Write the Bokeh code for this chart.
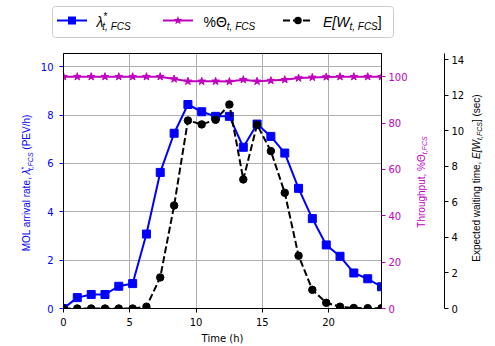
import math
from bokeh.plotting import figure
from bokeh.layouts import column
from bokeh.models import Range1d, LinearAxis, FixedTicker, Div
from bokeh.embed import file_html
from bokeh.resources import INLINE

# Hourly profile of the fast-charging station over one day
hours = [0.0, 1.04, 2.09, 3.13, 4.17, 5.22, 6.26, 7.30, 8.35, 9.39, 10.43, 11.48,
         12.52, 13.57, 14.61, 15.65, 16.70, 17.74, 18.78, 19.83, 20.87, 21.91, 22.96, 24.0]
arrival_rate = [0.0, 0.45, 0.58, 0.58, 0.92, 1.03, 3.08, 5.63, 7.25, 8.44, 8.14, 7.95,
                7.95, 6.67, 7.63, 7.12, 6.43, 4.97, 3.72, 2.63, 2.16, 1.47, 1.23, 0.90]
throughput = [100.0, 100.0, 100.0, 100.0, 100.0, 100.0, 100.0, 100.0, 99.0, 98.0, 98.0, 98.0,
              97.9, 98.7, 98.0, 98.3, 98.7, 99.4, 99.7, 99.9, 100.0, 100.0, 100.0, 100.0]
waiting_time = [0.0, 0.0, 0.0, 0.0, 0.0, 0.0, 0.1, 1.75, 5.8, 10.58, 10.36, 10.62,
                11.48, 7.26, 10.34, 8.86, 6.51, 2.97, 1.05, 0.32, 0.1, 0.03, 0.02, 0.02]

x_ticks = [0, 5, 10, 15, 20]
rate_ticks = [0, 2, 4, 6, 8, 10]
thr_ticks = [0, 20, 40, 60, 80, 100]
wait_ticks = [0, 2, 4, 6, 8, 10, 12, 14]

BLUE = "#0000ff"
MAGENTA = "#bf00bf"
BLACK = "#000000"
FONT = "DejaVu Sans"
W, H = 495, 346
LEG_H = 44

# ---------------------------------------------------------------- main chart
p = figure(width=W, height=H - LEG_H, output_backend="svg", toolbar_location=None,
           x_range=Range1d(0, 24), y_range=Range1d(0, max(arrival_rate) * 1.25),
           min_border_left=63, min_border_right=114, min_border_top=53 - LEG_H,
           min_border_bottom=37)
p.extra_y_ranges = {"thr": Range1d(0, 110), "wait": Range1d(0, max(waiting_time) * 1.25)}

p.outline_line_color = BLACK
p.outline_line_width = 1
p.background_fill_color = "white"
p.border_fill_color = None   # lets the typeset axis titles underneath show through

p.xgrid.ticker = FixedTicker(ticks=x_ticks)
p.ygrid.ticker = FixedTicker(ticks=rate_ticks)
for g in (p.xgrid, p.ygrid):
    g.grid_line_color = "#b0b0b0"
    g.grid_line_width = 1


def style_axis(ax, color, standoff=3):
    ax.axis_line_color = BLACK
    ax.major_tick_line_color = color
    ax.major_tick_line_width = 1
    ax.major_tick_out = 4
    ax.major_tick_in = 0
    ax.minor_tick_line_color = None
    ax.major_label_text_color = color
    ax.major_label_text_font = FONT
    ax.major_label_text_font_size = "10px"
    ax.major_label_standoff = standoff
    ax.axis_label_text_color = color
    ax.axis_label_text_font = FONT
    ax.axis_label_text_font_size = "10px"
    ax.axis_label_text_font_style = "normal"
    ax.axis_label_standoff = 4


xa = p.xaxis[0]
xa.ticker = FixedTicker(ticks=x_ticks)
xa.axis_label = "Time (h)"
style_axis(xa, BLACK, standoff=5)

ya = p.yaxis[0]
ya.ticker = FixedTicker(ticks=rate_ticks)
style_axis(ya, BLUE, standoff=6)

thr_axis = LinearAxis(y_range_name="thr", ticker=FixedTicker(ticks=thr_ticks))
style_axis(thr_axis, MAGENTA)
p.add_layout(thr_axis, "right")

# transparent axis used only as room for the throughput title
gap_axis = LinearAxis(y_range_name="thr", ticker=FixedTicker(ticks=[0]))
gap_axis.axis_line_alpha = 0
gap_axis.major_tick_line_alpha = 0
gap_axis.minor_tick_line_color = None
gap_axis.major_tick_out = 34
gap_axis.major_tick_in = 0
gap_axis.major_label_standoff = 0
gap_axis.major_label_text_alpha = 0
gap_axis.major_label_text_font_size = "2px"
p.add_layout(gap_axis, "right")

wait_axis = LinearAxis(y_range_name="wait", ticker=FixedTicker(ticks=wait_ticks))
style_axis(wait_axis, BLACK)
p.add_layout(wait_axis, "right")

# Series
p.line(hours, arrival_rate, line_color=BLUE, line_width=2)
p.scatter(hours, arrival_rate, marker="square", size=8, color=BLUE)
p.line(hours, throughput, y_range_name="thr", line_color=MAGENTA, line_width=2)
p.scatter(hours, throughput, y_range_name="thr", marker="star", size=8, color=MAGENTA)
p.line(hours, waiting_time, y_range_name="wait", line_color=BLACK, line_width=2,
       line_dash="7 3")
p.scatter(hours, waiting_time, y_range_name="wait", marker="circle", size=7.5, color=BLACK)

# ---------------------------------------------------------------- legend and titles
KEY_Y = 20.5
BASE = 26.5
SUB_DY = 3.5


def star_points(cx, cy, r_out, r_in):
    pts = []
    for k in range(10):
        r = r_out if k % 2 == 0 else r_in
        a = -math.pi / 2 + k * math.pi / 5
        pts.append(f"{cx + r * math.cos(a):.2f},{cy + r * math.sin(a):.2f}")
    return " ".join(pts)


def span(s, size, italic=False, dx=0, dy=0):
    style = "italic" if italic else "normal"
    return (f'<tspan font-size="{size}" font-style="{style}" dx="{dx}" dy="{dy}">'
            f'{s}</tspan>')


def legend_label(x, spans):
    return (f'<text x="{x}" y="{BASE}" font-family="{FONT}" fill="{BLACK}">'
            + "".join(spans) + "</text>")


def vtitle(x, y, color, spans):
    # title reading bottom-to-top, centred on (x, y); x is the baseline position
    return (f'<text transform="translate({x},{y}) rotate(-90)" x="0" y="0" '
            f'text-anchor="middle" font-family="{FONT}" fill="{color}">'
            + "".join(spans) + "</text>")


svg = [f'<svg xmlns="http://www.w3.org/2000/svg" width="{W}" height="{H}" '
       f'style="position:absolute;left:0;top:0;overflow:visible;z-index:10;'
       f'pointer-events:none">',
       '<rect x="52.5" y="6.5" width="341" height="31" rx="3" ry="3" '
       'fill="white" stroke="#cccccc" stroke-width="1"/>',
       # arrival-rate key
       f'<line x1="57" y1="{KEY_Y}" x2="87" y2="{KEY_Y}" stroke="{BLUE}" stroke-width="2"/>',
       f'<rect x="68" y="{KEY_Y - 4}" width="8" height="8" fill="{BLUE}"/>',
       legend_label(96.5, [span("λ", 14, True), span("*", 10, dy=-7),
                           span("t, FCS", 10, True, dx=-5, dy=10.5)]),
       # throughput key
       f'<line x1="163" y1="{KEY_Y}" x2="193" y2="{KEY_Y}" stroke="{MAGENTA}" stroke-width="2"/>',
       f'<polygon points="{star_points(178, KEY_Y, 4.6, 1.9)}" fill="{MAGENTA}"/>',
       legend_label(203.5, [span("%Θ", 14), span("t, FCS", 10, True, dy=SUB_DY)]),
       # waiting-time key
       f'<line x1="283" y1="{KEY_Y}" x2="313" y2="{KEY_Y}" stroke="{BLACK}" stroke-width="2" '
       'stroke-dasharray="7 3"/>',
       f'<circle cx="298" cy="{KEY_Y}" r="3.75" fill="{BLACK}"/>',
       legend_label(323, [span("E[W", 14, True), span("t, FCS", 10, True, dy=SUB_DY),
                          span("]", 14, dy=-SUB_DY)]),
       # axis titles
       vtitle(30, 183, BLUE, [span("MOL arrival rate, ", 10), span("λ", 10, True),
                              span("*", 7, dy=-4), span("t,FCS", 7, True, dx=-3.5, dy=6.5),
                              span(" (PEV/h)", 10, dy=-2.5)]),
       vtitle(424.5, 182, MAGENTA, [span("Throughput, %Θ", 10),
                                    span("t,FCS", 7, True, dy=2.5)]),
       vtitle(479.5, 178, BLACK, [span("Expected waiting time, ", 10), span("E[W", 10, True),
                                  span("t,FCS", 7, True, dy=2.5), span("]", 10, dy=-2.5),
                                  span(" (sec)", 10)]),
       '</svg>']

legend_div = Div(text="".join(svg), width=W, height=LEG_H, margin=0,
                 styles={"padding": "0", "margin": "0", "overflow": "visible",
                         "position": "relative", "z-index": "10"})

layout = column(legend_div, p, spacing=0)
open("out.html", "w").write(file_html(layout, INLINE))
